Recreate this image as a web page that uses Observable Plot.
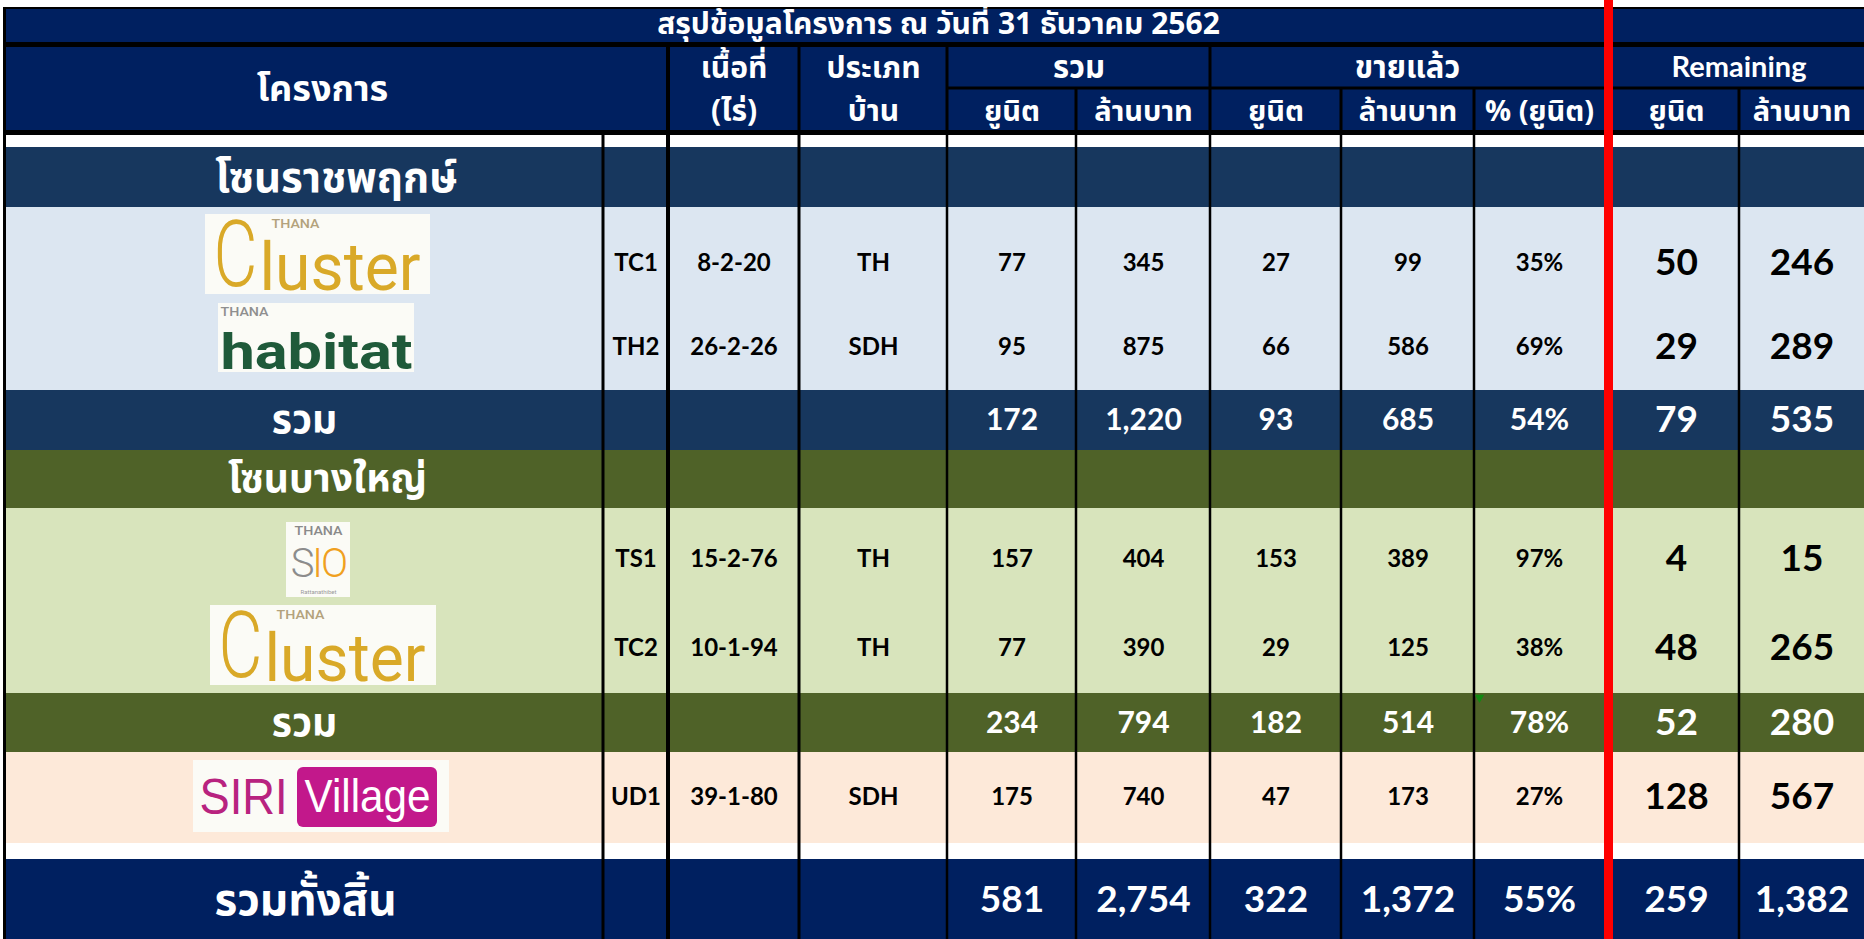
<!DOCTYPE html>
<html><head><meta charset="utf-8">
<script src="https://cdn.jsdelivr.net/npm/d3@7"></script>
<script src="https://cdn.jsdelivr.net/npm/@observablehq/plot@0.6"></script>
<style>
html,body{margin:0;padding:0;background:#fff;}
#chart svg{display:block;}
</style></head><body><div id="chart"></div>
<script>
// ---------------- data ----------------
const title = "สรุปข้อมูลโครงการ ณ วันที่ 31 ธันวาคม 2562";
const zoneNames = ["โซนราชพฤกษ์", "โซนบางใหญ่"];
const codes = ["TC1", "TH2", "TS1", "TC2", "UD1"];
const logos = ["Cluster", "habitat", "SIO", "Cluster", "SIRI Village"];
const areas = ["8-2-20", "26-2-26", "15-2-76", "10-1-94", "39-1-80"];
const houseTypes = ["TH", "SDH", "TH", "TH", "SDH"];
const totalUnits = [77, 95, 157, 77, 175];
const totalMB = [345, 875, 404, 390, 740];
const soldUnits = [27, 66, 153, 29, 47];
const soldMB = [99, 586, 389, 125, 173];
const soldPct = ["35%", "69%", "97%", "38%", "27%"];
const remUnits = [50, 29, 4, 48, 128];
const remMB = [246, 289, 15, 265, 567];
const subtotalLabel = "รวม";
const grandLabel = "รวมทั้งสิ้น";
const sub1 = [172, 1220, 93, 685, "54%", 79, 535];
const sub2 = [234, 794, 182, 514, "78%", 52, 280];
const grand = [581, 2754, 322, 1372, "55%", 259, 1382];
const headCols = ["โครงการ", "เนื้อที่", "(ไร่)", "ประเภท", "บ้าน"];
const headGroups = ["รวม", "ขายแล้ว", "Remaining"];
const headSub = ["ยูนิต", "ล้านบาท", "ยูนิต", "ล้านบาท", "% (ยูนิต)", "ยูนิต", "ล้านบาท"];

// ---------------- layout ----------------
const W = 1864, H = 939;
const col = {logo:[6,603], code:[603,668], area:[668,799], type:[799,947], totU:[947,1076], totMB:[1076,1210],
  soldU:[1210,1341], soldMB:[1341,1474], pct:[1474,1604], remU:[1613,1739], remMB:[1739,1864]};
const cx = k => (col[k][0] + col[k][1]) / 2;
const numKeys = ["totU","totMB","soldU","soldMB","pct","remU","remMB"];
const fmt = v => typeof v === "number" ? d3.format(",")(v) : v;

const NAVY = "#002060", DBLUE = "#17375e", LBLUE = "#dce6f1", OLIVE = "#4f6228", LGREEN = "#d8e4bc", PEACH = "#fde9d9";
const THAI = "'Noto Sans Thai','Noto Sans Thai UI','Noto Sans',Tahoma,sans-serif";
const NUM = "Lato,'Open Sans',sans-serif";

const bands = [
  {x1:3, x2:W, y1:7, y2:135, fill:"#000"},
  {x1:6, x2:W, y1:9, y2:42, fill:NAVY},
  {x1:6, x2:W, y1:47, y2:130, fill:NAVY},
  {x1:6, x2:W, y1:147, y2:207, fill:DBLUE},
  {x1:6, x2:W, y1:207, y2:390, fill:LBLUE},
  {x1:6, x2:W, y1:390, y2:450, fill:DBLUE},
  {x1:6, x2:W, y1:450, y2:508, fill:OLIVE},
  {x1:6, x2:W, y1:508, y2:693, fill:LGREEN},
  {x1:6, x2:W, y1:693, y2:752, fill:OLIVE},
  {x1:6, x2:W, y1:752, y2:843, fill:PEACH},
  {x1:6, x2:W, y1:859, y2:H, fill:NAVY}
];
// grid lines
const lines = [];
const vline = (x, w, y1, y2, fill="#000") => lines.push({x1:x - w/2, x2:x + w/2, y1, y2, fill});
vline(4.5, 3, 7, H);
[[668,4],[799,3],[947,3],[1210,3]].forEach(([x,w]) => vline(x, w, 47, 130));
[1076,1341,1474,1739].forEach(x => vline(x, 3, 88, 130));
lines.push({x1:947, x2:W, y1:86.5, y2:89.5, fill:"#000"});
[[603,3],[668,4],[799,3]].forEach(([x,w]) => vline(x, w, 135, H));
[947,1076,1210,1341,1474,1739].forEach(x => vline(x, 2.5, 135, H));
lines.push({x1:1604, x2:1613, y1:0, y2:H, fill:"#ff0000"});

// row text positions
const projY = [263, 347, 559, 648, 797];
const subY = [420, 723], grandY = 900;

const texts = [];
// title & header
texts.push({x:938, y:24, t:title, size:30, fill:"#fff", font:THAI});
texts.push({x:322, y:89, t:headCols[0], size:36, fill:"#fff", font:THAI});
texts.push({x:cx("area"), y:68, t:headCols[1], size:30, fill:"#fff", font:THAI});
texts.push({x:cx("area"), y:111, t:headCols[2], size:30, fill:"#fff", font:THAI});
texts.push({x:cx("type"), y:68, t:headCols[3], size:30, fill:"#fff", font:THAI});
texts.push({x:cx("type"), y:111, t:headCols[4], size:30, fill:"#fff", font:THAI});
texts.push({x:(col.totU[0]+col.totMB[1])/2, y:68, t:headGroups[0], size:31, fill:"#fff", font:THAI});
texts.push({x:(col.soldU[0]+col.pct[1])/2, y:68, t:headGroups[1], size:31, fill:"#fff", font:THAI});
texts.push({x:(col.remU[0]+col.remMB[1])/2, y:67, t:headGroups[2], size:29, fill:"#fff", font:NUM});
numKeys.forEach((k,i) => texts.push({x:cx(k), y:111, t:headSub[i], size:29, fill:"#fff", font:THAI}));
// zone labels
texts.push({x:336, y:178, t:zoneNames[0], size:42, fill:"#fff", font:THAI});
texts.push({x:327, y:479, t:zoneNames[1], size:39, fill:"#fff", font:THAI});
// project rows
codes.forEach((c,i) => {
  const y = projY[i];
  const vals = [c, areas[i], houseTypes[i], totalUnits[i], totalMB[i], soldUnits[i], soldMB[i], soldPct[i], remUnits[i], remMB[i]];
  ["code","area","type",...numKeys].forEach((k,j) => {
    const big = k === "remU" || k === "remMB";
    texts.push({x:cx(k), y, t:fmt(vals[j]), size: big ? 37 : 24, fill:"#000", font:NUM});
  });
});
// subtotals
[sub1, sub2].forEach((s,i) => {
  texts.push({x:304, y:subY[i], t:subtotalLabel, size:39, fill:"#fff", font:THAI});
  numKeys.forEach((k,j) => {
    const big = k === "remU" || k === "remMB";
    texts.push({x:cx(k), y:subY[i], t:fmt(s[j]), size: big ? 37 : 30, fill:"#fff", font:NUM});
  });
});
texts.push({x:305, y:grandY, t:grandLabel, size:44, fill:"#fff", font:THAI});
numKeys.forEach((k,j) => texts.push({x:cx(k), y:grandY, t:fmt(grand[j]), size:37, fill:"#fff", font:NUM}));

// ---------- logos (drawn as text) ----------
const logoBoxes = {
  TC1:{x1:205,x2:430,y1:214,y2:294}, TH2:{x1:218,x2:414,y1:303,y2:372}, TS1:{x1:286,x2:350,y1:522,y2:597},
  TC2:{x1:210,x2:436,y1:605,y2:685}, UD1:{x1:193,x2:449,y1:760,y2:832}
};
const logoRects = [];
const logoTexts = [];
codes.forEach((c,i) => {
  const b = logoBoxes[c];
  logoRects.push({...b, fill:"#fbfbf6"});
  const L = logos[i];
  if (L === "Cluster") {
    logoTexts.push({x:b.x1+8, y:(b.y1+b.y2)/2 + 2, t:"C", size:92, fill:"#d9a928", font:"Roboto", weight:300, anchor:"start", len:44});
    logoTexts.push({x:b.x1+54, y:(b.y1+b.y2)/2 + 14, t:"luster", size:66, fill:"#d9a928", font:"Roboto", weight:400, anchor:"start", len:b.x2-b.x1-64});
    logoTexts.push({x:b.x1+66, y:b.y1+10, t:"THANA", size:12, fill:"#b3a27c", font:"Roboto", weight:500, anchor:"start", len:48});
  } else if (L === "habitat") {
    logoTexts.push({x:(b.x1+b.x2)/2, y:b.y1+49, t:"habitat", size:50, fill:"#1f5a3a", font:"Roboto", weight:700, anchor:"middle", len:b.x2-b.x1-4});
    logoTexts.push({x:b.x1+2, y:b.y1+9, t:"THANA", size:12, fill:"#8f8f8f", font:"Roboto", weight:500, anchor:"start", len:42});
  } else if (L === "SIO") {
    logoTexts.push({x:(b.x1+b.x2)/2, y:b.y1+9, t:"THANA", size:12, fill:"#8a8a8a", font:"Roboto", weight:500, anchor:"middle", len:56});
    logoTexts.push({x:b.x1+16, y:b.y1+42, t:"S", size:40, fill:"#8c8c8c", font:"Roboto", weight:300, anchor:"middle"});
    logoTexts.push({x:b.x1+31, y:b.y1+42, t:"I", size:40, fill:"#f0a020", font:"Roboto", weight:300, anchor:"middle"});
    logoTexts.push({x:b.x1+48, y:b.y1+42, t:"O", size:40, fill:"#f0a020", font:"Roboto", weight:300, anchor:"middle"});
    logoTexts.push({x:(b.x1+b.x2)/2, y:b.y1+70, t:"Rattanathibet", size:6, fill:"#999", font:"Roboto", weight:400, anchor:"middle"});
  } else {
    logoRects.push({x1:b.x1+104, x2:b.x1+244, y1:b.y1+7, y2:b.y1+67, fill:"#c2188b"});
    logoTexts.push({x:b.x1+50, y:b.y1+37, t:"SIRI", size:50, fill:"#b8237f", font:"'Liberation Sans',Arial", weight:400, anchor:"middle", len:88});
    logoTexts.push({x:b.x1+174, y:b.y1+37, t:"Village", size:46, fill:"#fff", font:"'Liberation Sans',Arial", weight:400, anchor:"middle", len:126});
  }
});

const groupsBy = d3.groups(texts, d => d.font + "|" + d.size);
const chart = Plot.plot({
  width: W, height: H, margin: 0,
  x: {domain:[0, W], range:[0, W], axis:null},
  y: {domain:[0, H], range:[0, H], axis:null},
  color: {type:"identity"},
  style: {background:"#fff"},
  marks: [
    Plot.rect(bands, {x1:"x1", x2:"x2", y1:"y1", y2:"y2", fill:"fill"}),
    Plot.rect(logoRects.filter(d => d.fill === "#fbfbf6"), {x1:"x1", x2:"x2", y1:"y1", y2:"y2", fill:"fill"}),
    Plot.rect(logoRects.filter(d => d.fill !== "#fbfbf6"), {x1:"x1", x2:"x2", y1:"y1", y2:"y2", fill:"fill", rx:6}),
    Plot.rect(lines, {x1:"x1", x2:"x2", y1:"y1", y2:"y2", fill:"fill"}),
    Plot.dot([{x:1479, y:697}], {x:"x", y:"y", symbol:"triangle", r:3.5, fill:"#128a12", rotate:180}),
    ...groupsBy.map(([key, arr]) => Plot.text(arr, {
      x:"x", y:"y", text:"t", fill:"fill", fontSize:arr[0].size, fontFamily:arr[0].font, fontWeight:700
    })),
    ...logoTexts.map(d => Plot.text([d], {
      x:"x", y:"y", text:"t", fill:"fill", fontSize:d.size, fontFamily:d.font, fontWeight:d.weight, textAnchor:d.anchor
    }))
  ]
});
// stretch logo wordmarks to their box widths
d3.select(chart).selectAll("text").each(function() {
  const t = this.textContent;
  const m = logoTexts.find(d => d.t === t && d.len);
  if (m) d3.select(this).attr("textLength", m.len).attr("lengthAdjust", "spacingAndGlyphs");
});
document.getElementById("chart").appendChild(chart);
</script>
</body></html>
